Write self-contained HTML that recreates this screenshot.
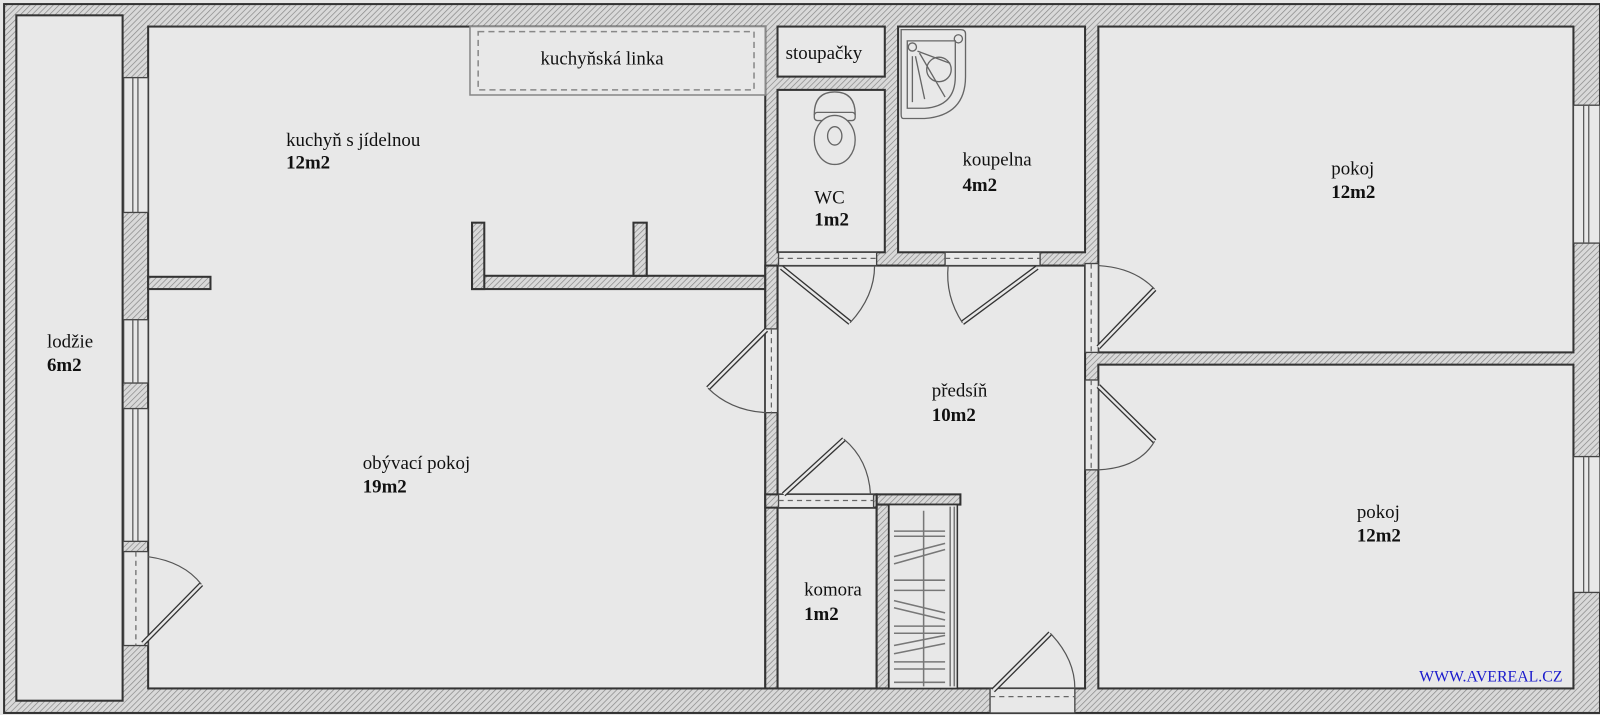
<!DOCTYPE html>
<html><head><meta charset="utf-8"><style>
html,body{margin:0;padding:0;background:#e6e6e6;}
svg{display:block}
text{font-family:"Liberation Serif",serif;font-size:18.5px;fill:#111}
.b{font-weight:bold}
</style></head><body>
<svg width="1600" height="715" viewBox="0 0 1566 700" preserveAspectRatio="none" xmlns="http://www.w3.org/2000/svg">
<defs>
<pattern id="h" width="4" height="4" patternUnits="userSpaceOnUse" patternTransform="rotate(45)">
<rect width="4" height="4" fill="#d9d9d9"/><line x1="0" y1="0" x2="0" y2="4" stroke="#8a8a8a" stroke-width="1.4"/>
</pattern>
</defs>
<rect width="1566" height="700" fill="#e6e6e6"/>
<rect x="4" y="4" width="1562" height="694" fill="url(#h)" stroke="#333" stroke-width="2"/>
<g fill="#e8e8e8" stroke="#333" stroke-width="2">
<rect x="16" y="15" width="104" height="671"/>
<rect x="145" y="26" width="604" height="648"/>
<rect x="761" y="26" width="105" height="49"/>
<rect x="761" y="88" width="105" height="159"/>
<rect x="879" y="26" width="183" height="221"/>
<rect x="1075" y="26" width="465" height="319"/>
<rect x="1075" y="357" width="465" height="317"/>
<rect x="761" y="260" width="301" height="414"/>
<rect x="761" y="497" width="97" height="177"/>
</g>
<g fill="url(#h)" stroke="#333" stroke-width="2">
<rect x="145" y="271" width="61" height="12"/>
<rect x="462" y="270" width="287" height="13"/>
<rect x="462" y="218" width="12" height="65"/>
<rect x="620" y="218" width="13" height="52"/>
<rect x="749" y="260" width="12" height="414"/>
<rect x="858" y="484" width="82" height="10"/>
<rect x="858" y="494" width="12" height="180"/>
<rect x="749" y="484" width="109" height="13"/>
</g>
<rect x="870" y="494" width="67" height="180" fill="#e8e8e8" stroke="#333" stroke-width="1.5"/>
<g stroke="#777" stroke-width="1.5">
<line x1="904" y1="500" x2="904" y2="672"/><line x1="930" y1="496" x2="930" y2="672"/><line x1="934" y1="496" x2="934" y2="672"/>
<line x1="875" y1="520" x2="925" y2="520"/><line x1="875" y1="525" x2="925" y2="525"/>
<line x1="875" y1="545" x2="925" y2="532"/><line x1="875" y1="552" x2="925" y2="538"/>
<line x1="875" y1="568" x2="925" y2="568"/><line x1="875" y1="578" x2="925" y2="578"/>
<line x1="875" y1="588" x2="925" y2="600"/><line x1="875" y1="595" x2="925" y2="607"/>
<line x1="875" y1="613" x2="925" y2="613"/><line x1="875" y1="620" x2="925" y2="620"/>
<line x1="875" y1="632" x2="925" y2="622"/><line x1="875" y1="640" x2="925" y2="630"/>
<line x1="875" y1="648" x2="925" y2="648"/><line x1="875" y1="655" x2="925" y2="655"/>
<line x1="875" y1="668" x2="925" y2="668"/>
</g>
<rect x="460" y="26" width="289" height="67" fill="#e8e8e8" stroke="#888" stroke-width="1.5"/>
<rect x="468" y="31" width="270" height="57" fill="none" stroke="#888" stroke-width="1.5" stroke-dasharray="6,4"/>
<g fill="#e8e8e8" stroke="#444" stroke-width="1.3">
<rect x="121" y="76" width="24" height="132"/><rect x="121" y="313" width="24" height="62"/><rect x="121" y="400" width="24" height="130"/>
<rect x="1540" y="103" width="26" height="135"/><rect x="1540" y="447" width="26" height="133"/>
</g>
<g stroke="#555" stroke-width="1.2">
<line x1="130" y1="76" x2="130" y2="208"/><line x1="135" y1="76" x2="135" y2="208"/>
<line x1="130" y1="313" x2="130" y2="375"/><line x1="135" y1="313" x2="135" y2="375"/>
<line x1="130" y1="400" x2="130" y2="530"/><line x1="135" y1="400" x2="135" y2="530"/>
<line x1="1550" y1="103" x2="1550" y2="238"/><line x1="1555" y1="103" x2="1555" y2="238"/>
<line x1="1550" y1="447" x2="1550" y2="580"/><line x1="1555" y1="447" x2="1555" y2="580"/>
</g>
<g fill="#e8e8e8" stroke="#444" stroke-width="1.3">
<rect x="121" y="540" width="24" height="92"/>
<rect x="749" y="322" width="12" height="82"/>
<rect x="762" y="247" width="96" height="13"/>
<rect x="925" y="247" width="93" height="13"/>
<rect x="1062" y="258" width="13" height="87"/>
<rect x="1062" y="372" width="13" height="88"/>
<rect x="762" y="484" width="93" height="13"/>
<rect x="969" y="674" width="83" height="24"/>
</g>
<g stroke="#666" stroke-width="1.2" stroke-dasharray="5,4" fill="none">
<line x1="133" y1="540" x2="133" y2="632"/><line x1="755" y1="322" x2="755" y2="404"/>
<line x1="762" y1="253" x2="858" y2="253"/><line x1="925" y1="253" x2="1018" y2="253"/>
<line x1="1068" y1="258" x2="1068" y2="345"/><line x1="1068" y1="372" x2="1068" y2="460"/>
<line x1="762" y1="490" x2="855" y2="490"/><line x1="969" y1="682" x2="1052" y2="682"/>
</g>
<g stroke="#333" stroke-width="5">
<line x1="140" y1="630" x2="197" y2="572"/><line x1="750" y1="323" x2="693" y2="380"/>
<line x1="765" y1="262" x2="832" y2="316"/><line x1="1015" y1="262" x2="942" y2="316"/>
<line x1="1075" y1="340" x2="1130" y2="283"/><line x1="1075" y1="378" x2="1130" y2="432"/>
<line x1="767" y1="484" x2="826" y2="430"/><line x1="972" y1="676" x2="1028" y2="620"/>
</g>
<g stroke="#e8e8e8" stroke-width="2.4">
<line x1="140" y1="630" x2="197" y2="572"/><line x1="750" y1="323" x2="693" y2="380"/>
<line x1="765" y1="262" x2="832" y2="316"/><line x1="1015" y1="262" x2="942" y2="316"/>
<line x1="1075" y1="340" x2="1130" y2="283"/><line x1="1075" y1="378" x2="1130" y2="432"/>
<line x1="767" y1="484" x2="826" y2="430"/><line x1="972" y1="676" x2="1028" y2="620"/>
</g>
<g stroke="#555" stroke-width="1.2" fill="none">
<path d="M197 572 Q180 550 145 545"/><path d="M693 380 Q715 402 750 404"/>
<path d="M832 316 Q856 290 856 260"/><path d="M942 316 Q925 290 928 260"/>
<path d="M1130 283 Q1110 262 1075 260"/><path d="M1130 432 Q1115 458 1075 460"/>
<path d="M826 430 Q850 450 852 484"/><path d="M1028 620 Q1052 645 1052 674"/>
</g>
<g stroke="#666" stroke-width="1.3" fill="#e8e8e8">
<path d="M797 112 Q797 90 817 90 Q837 90 837 112 Z"/>
<rect x="797" y="110" width="40" height="8" rx="3"/>
<ellipse cx="817" cy="137" rx="20" ry="24"/>
<ellipse cx="817" cy="133" rx="7" ry="9"/>
</g>
<g stroke="#666" stroke-width="1.3" fill="none">
<path d="M882 29 L940 29 Q945 29 945 33 L945 75 Q945 113 905 116 L884 116 Q882 116 882 112 Z"/>
<path d="M888 40 L935 40 L935 75 Q935 104 905 106 L888 106 Z"/>
<circle cx="919" cy="68" r="12"/><circle cx="893" cy="46" r="4"/><circle cx="938" cy="38" r="4"/>
<line x1="898" y1="50" x2="930" y2="62"/><line x1="896" y1="55" x2="905" y2="97"/><line x1="893" y1="55" x2="893" y2="100"/><line x1="900" y1="52" x2="925" y2="95"/>
</g>
<text x="529" y="63">kuchyňská linka</text>
<text x="769" y="58">stoupačky</text>
<text x="280" y="143">kuchyň s jídelnou</text><text x="280" y="165" class="b">12m2</text>
<text x="797" y="199">WC</text><text x="797" y="221" class="b">1m2</text>
<text x="942" y="162">koupelna</text><text x="942" y="187" class="b">4m2</text>
<text x="1303" y="171">pokoj</text><text x="1303" y="194" class="b">12m2</text>
<text x="912" y="388">předsíň</text><text x="912" y="412" class="b">10m2</text>
<text x="355" y="459">obývací pokoj</text><text x="355" y="482" class="b">19m2</text>
<text x="46" y="340">lodžie</text><text x="46" y="363" class="b">6m2</text>
<text x="787" y="583">komora</text><text x="787" y="607" class="b">1m2</text>
<text x="1328" y="507">pokoj</text><text x="1328" y="530" class="b">12m2</text>
<text x="1389" y="667" style="fill:#1a1acc;font-size:15.5px">WWW.AVEREAL.CZ</text>
</svg>
</body></html>
